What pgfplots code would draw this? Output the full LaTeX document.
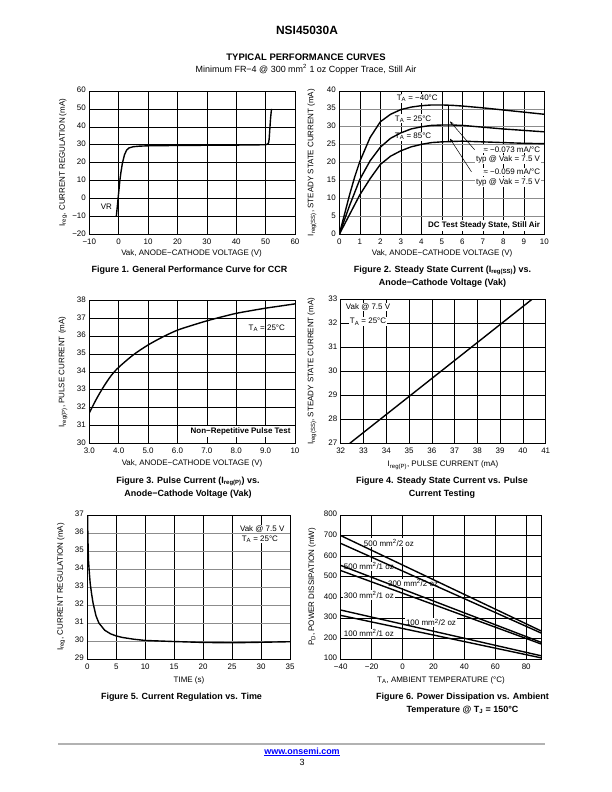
\documentclass[border=0pt]{standalone}
\usepackage{fontspec}
\setmainfont{Liberation Sans}
\usepackage{pgfplots}
\pgfplotsset{compat=1.18}
\usetikzlibrary{arrows.meta}
\newcommand\sm{\fontsize{8}{9.5}\selectfont}
\newcommand\capf{\fontsize{9}{12.8}\selectfont\bfseries}
\pgfplotsset{
 ds/.style={
  scale only axis,
  anchor=south west,
  axis line style={line width=0.9pt},
  xmajorgrids, ymajorgrids,
  major grid style={line width=0.55pt, black},
  major tick length=0pt,
  tick label style={font=\sm},
  typeset ticklabels with strut,
  /pgf/number format/assume math mode=true,
 },
 crv/.style={black, line width=1.4pt, no marks},
}
\begin{document}
\begin{tikzpicture}
\path[use as bounding box, fill=white] (0,0) rectangle (612bp,792bp);
% header
\node[font=\fontsize{12}{14}\selectfont\bfseries] at (307bp,762bp) {NSI45030A};
\node[font=\fontsize{9.5}{11}\selectfont\bfseries] at (306bp,735bp) {TYPICAL PERFORMANCE CURVES};
\node[font=\fontsize{9}{11}\selectfont] at (306bp,722.5bp) {Minimum FR−4 @ 300 mm\textsuperscript{2} 1 oz Copper Trace, Still Air};

% ---------- Figure 1
\begin{axis}[ds, at={(89.3bp,557.7bp)}, width=205.7bp, height=143.3bp,
 xmin=-10, xmax=60, ymin=-20, ymax=60,
 xtick={-10,0,...,60}, ytick={-20,-10,...,60},
 xticklabels={−10,0,10,20,30,40,50,60},
 yticklabels={−20,−10,0,10,20,30,40,50,60}]
\addplot[crv] coordinates {(-0.8,-10) (-0.5,-5) (-0.2,0) (0.1,5) (0.4,10) (0.8,15) (1.3,20) (2,24.5) (2.7,27) (3.5,28.2) (5,28.9) (7,29.2) (10,29.4) (20,29.6) (30,29.7) (40,29.8) (50,30) (50.7,30.4) (51,31) (51.2,33) (51.4,38) (51.7,45) (52,50)};
\node[font=\sm] at (axis cs:-4.2,-4.6) {VR};
\end{axis}
\node[font=\sm] at (191.5bp,539bp) {Vak, ANODE−CATHODE VOLTAGE (V)};
\node[font=\sm, rotate=90] at (63bp,629.4bp) {I\textsubscript{reg}, CURRENT REGULATION (mA)};
\node[font=\capf] at (189.5bp,522bp) {Figure 1. General Performance Curve for CCR};

% ---------- Figure 2
\begin{axis}[ds, at={(339.3bp,557.7bp)}, width=205bp, height=143.3bp,
 xmin=0, xmax=10, ymin=0, ymax=40,
 xtick={0,1,...,10}, ytick={0,5,...,40},
 major y grid style={line width=0.8pt, black!45}]
\node[fill=white, inner sep=1pt, font=\sm] at (axis cs:3.8,38) {T\textsubscript{A} = −40°C};
\node[fill=white, inner sep=1pt, font=\sm] at (axis cs:3.6,32.2) {T\textsubscript{A} = 25°C};
\node[fill=white, inner sep=1pt, font=\sm] at (axis cs:3.6,27.4) {T\textsubscript{A} = 85°C};
\node[fill=white, inner sep=1pt, font=\sm, anchor=east] at (axis cs:9.85,23.7) {≈ −0.073 mA/°C};
\node[fill=white, inner sep=1pt, font=\sm, anchor=east] at (axis cs:9.85,20.8) {typ @ Vak = 7.5 V};
\node[fill=white, inner sep=1pt, font=\sm, anchor=east] at (axis cs:9.85,17.5) {≈ −0.059 mA/°C};
\node[fill=white, inner sep=1pt, font=\sm, anchor=east] at (axis cs:9.85,14.6) {typ @ Vak = 7.5 V};
\node[fill=white, inner sep=2pt, font=\sm\bfseries, anchor=east] at (axis cs:9.9,2.5) {DC Test Steady State, Still Air};
\addplot[crv] coordinates {(0,0) (0.25,5.5) (0.5,11) (0.75,16) (1,20.3) (1.5,27) (2,31.4) (2.5,33.5) (3,34.8) (3.5,35.5) (4,35.9) (4.5,36.1) (5,36.1) (5.5,36) (6,35.8) (7,35.3) (8,34.7) (9,34.1) (10,33.5)};
\addplot[crv] coordinates {(0,0) (0.5,8) (1,15.3) (1.5,20.5) (2,24.3) (2.5,26.8) (3,28.3) (3.5,29.4) (4,30.0) (4.5,30.4) (5,30.5) (5.5,30.5) (6,30.4) (7,29.9) (8,29.4) (9,29.0) (10,28.6)};
\addplot[crv] coordinates {(0,0) (0.5,5.5) (1,11) (1.5,15.5) (2,19.5) (2.5,21.8) (3,23.3) (3.5,24.4) (4,25.1) (4.5,25.6) (5,25.8) (6,26.0) (7,25.8) (8,25.6) (9,25.4) (10,25.3)};
\draw[line width=0.5pt] (axis cs:5.3,36.1) -- (axis cs:5.3,25.8);
\draw[line width=0.5pt, -{Stealth[length=4pt,width=3pt]}] (axis cs:6.6,23.6) -- (axis cs:5.4,31.5);
\draw[line width=0.5pt, -{Stealth[length=4pt,width=3pt]}] (axis cs:6.45,17.4) -- (axis cs:5.4,26.7);
\end{axis}
\node[font=\sm] at (442bp,539bp) {Vak, ANODE−CATHODE VOLTAGE (V)};
\node[font=\sm, rotate=90] at (312bp,629.4bp) {I\textsubscript{reg(SS)}, STEADY STATE CURRENT (mA)};
\node[font=\capf, align=center] at (442.5bp,515.5bp) {Figure 2. Steady State Current (I\textsubscript{reg(SS)}) vs.\\Anode−Cathode Voltage (Vak)};

% ---------- Figure 3
\begin{axis}[ds, at={(89.3bp,348.7bp)}, width=205.7bp, height=143bp,
 xmin=3, xmax=10, ymin=30, ymax=38,
 xtick={3,4,...,10}, ytick={30,31,...,38},
 xticklabels={3.0,4.0,5.0,6.0,7.0,8.0,9.0,10}]
\node[font=\sm] at (axis cs:9.04,36.45) {T\textsubscript{A} = 25°C};
\node[fill=white, inner sep=2pt, font=\sm\bfseries, anchor=east] at (axis cs:9.92,30.65) {Non−Repetitive Pulse Test};
\addplot[crv, smooth] coordinates {(3,31.7) (3.25,32.5) (3.5,33.2) (3.75,33.8) (4,34.25) (4.5,34.95) (5,35.5) (5.5,35.95) (6,36.33) (6.5,36.6) (7,36.85) (7.5,37.07) (8,37.27) (8.5,37.42) (9,37.56) (9.5,37.68) (10,37.8)};
\end{axis}
\node[font=\sm] at (192bp,329bp) {Vak, ANODE−CATHODE VOLTAGE (V)};
\node[font=\sm, rotate=90] at (63bp,420bp) {I\textsubscript{reg(P)}, PULSE CURRENT (mA)};
\node[font=\capf, align=center] at (188bp,304.5bp) {Figure 3. Pulse Current (I\textsubscript{reg(P)}) vs.\\Anode−Cathode Voltage (Vak)};

% ---------- Figure 4
\begin{axis}[ds, at={(340.7bp,348.7bp)}, width=205bp, height=144bp,
 xmin=32, xmax=41, ymin=27, ymax=33,
 xtick={32,33,...,41}, ytick={27,28,...,33}]
\node[fill=white, inner sep=1pt, font=\sm] at (axis cs:33.2,32.68) {Vak @ 7.5 V};
\node[fill=white, inner sep=1pt, font=\sm] at (axis cs:33.2,32.06) {T\textsubscript{A} = 25°C};
\addplot[crv] coordinates {(32.4,27) (35,28.95) (39,31.95) (40.4,33)};
\end{axis}
\node[font=\sm] at (443bp,327bp) {I\textsubscript{reg(P)}, PULSE CURRENT (mA)};
\node[font=\sm, rotate=90] at (312bp,420.7bp) {I\textsubscript{reg(SS)}, STEADY STATE CURRENT (mA)};
\node[font=\capf, align=center] at (442bp,304.5bp) {Figure 4. Steady State Current vs. Pulse\\Current Testing};

% ---------- Figure 5
\begin{axis}[ds, at={(87.3bp,133bp)}, width=202.7bp, height=144bp,
 xmin=0, xmax=35, ymin=29, ymax=37,
 xtick={0,5,...,35}, ytick={29,30,...,37},
 major y grid style={line width=0.8pt, black!45}]
\node[fill=white, inner sep=1pt, font=\sm] at (axis cs:30.2,36.22) {Vak @ 7.5 V};
\node[fill=white, inner sep=1pt, font=\sm] at (axis cs:29.8,35.67) {T\textsubscript{A} = 25°C};
\addplot[crv] coordinates {(0.05,37) (0.1,35.8) (0.2,34.5) (0.35,33.8) (0.5,33.2) (0.75,32.6) (1,32.1) (1.5,31.4) (2,31.0) (2.5,30.8) (3,30.6) (4,30.4) (5,30.28) (6,30.2) (8,30.1) (10,30.03) (15,29.97) (20,29.92) (25,29.9) (30,29.93) (35,29.96)};
\end{axis}
\node[font=\sm] at (189bp,112bp) {TIME (s)};
\node[font=\sm, rotate=90] at (61bp,205bp) {I\textsubscript{reg}, CURRENT REGULATION (mA)};
\node[font=\capf] at (181.5bp,95bp) {Figure 5. Current Regulation vs. Time};

% ---------- Figure 6
\begin{axis}[ds, at={(340.7bp,133bp)}, width=201bp, height=144bp,
 xmin=-40, xmax=90, ymin=100, ymax=800,
 xtick={-40,-20,...,80}, ytick={100,200,...,800},
 xticklabels={−40,−20,0,20,40,60,80}]
\node[fill=white, inner sep=1pt, font=\sm] at (axis cs:-8.8,666) {500 mm\textsuperscript{2}/2 oz};
\node[fill=white, inner sep=1pt, font=\sm] at (axis cs:-21.8,551) {500 mm\textsuperscript{2}/1 oz};
\node[fill=white, inner sep=1pt, font=\sm] at (axis cs:6.8,469) {300 mm\textsuperscript{2}/2 oz};
\node[fill=white, inner sep=1pt, font=\sm] at (axis cs:-21.8,411) {300 mm\textsuperscript{2}/1 oz};
\node[fill=white, inner sep=1pt, font=\sm] at (axis cs:18.4,278) {100 mm\textsuperscript{2}/2 oz};
\node[fill=white, inner sep=1pt, font=\sm] at (axis cs:-21.8,225) {100 mm\textsuperscript{2}/1 oz};
\addplot[crv] coordinates {(-40,700) (90,235)};
\addplot[crv] coordinates {(-40,662) (90,225)};
\addplot[crv] coordinates {(-40,555) (90,180)};
\addplot[crv] coordinates {(-40,530) (90,172)};
\addplot[crv] coordinates {(-40,338) (90,115)};
\addplot[crv] coordinates {(-40,312) (90,105)};
\end{axis}
\node[font=\sm] at (441bp,112bp) {T\textsubscript{A}, AMBIENT TEMPERATURE (°C)};
\node[font=\sm, rotate=90] at (312bp,205bp) {P\textsubscript{D}, POWER DISSIPATION (mW)};
\node[font=\capf, align=center] at (462.5bp,88.5bp) {Figure 6. Power Dissipation vs. Ambient\\Temperature @ T\textsubscript{J} = 150°C};

% footer
\draw[black!30, line width=1.5pt] (58bp,48bp) -- (545bp,48bp);
\node[font=\fontsize{9}{11}\selectfont\bfseries, text=blue] at (302bp,40bp) {\underline{www.onsemi.com}};
\node[font=\fontsize{9}{11}\selectfont] at (302bp,30bp) {3};
\end{tikzpicture}
\end{document}
